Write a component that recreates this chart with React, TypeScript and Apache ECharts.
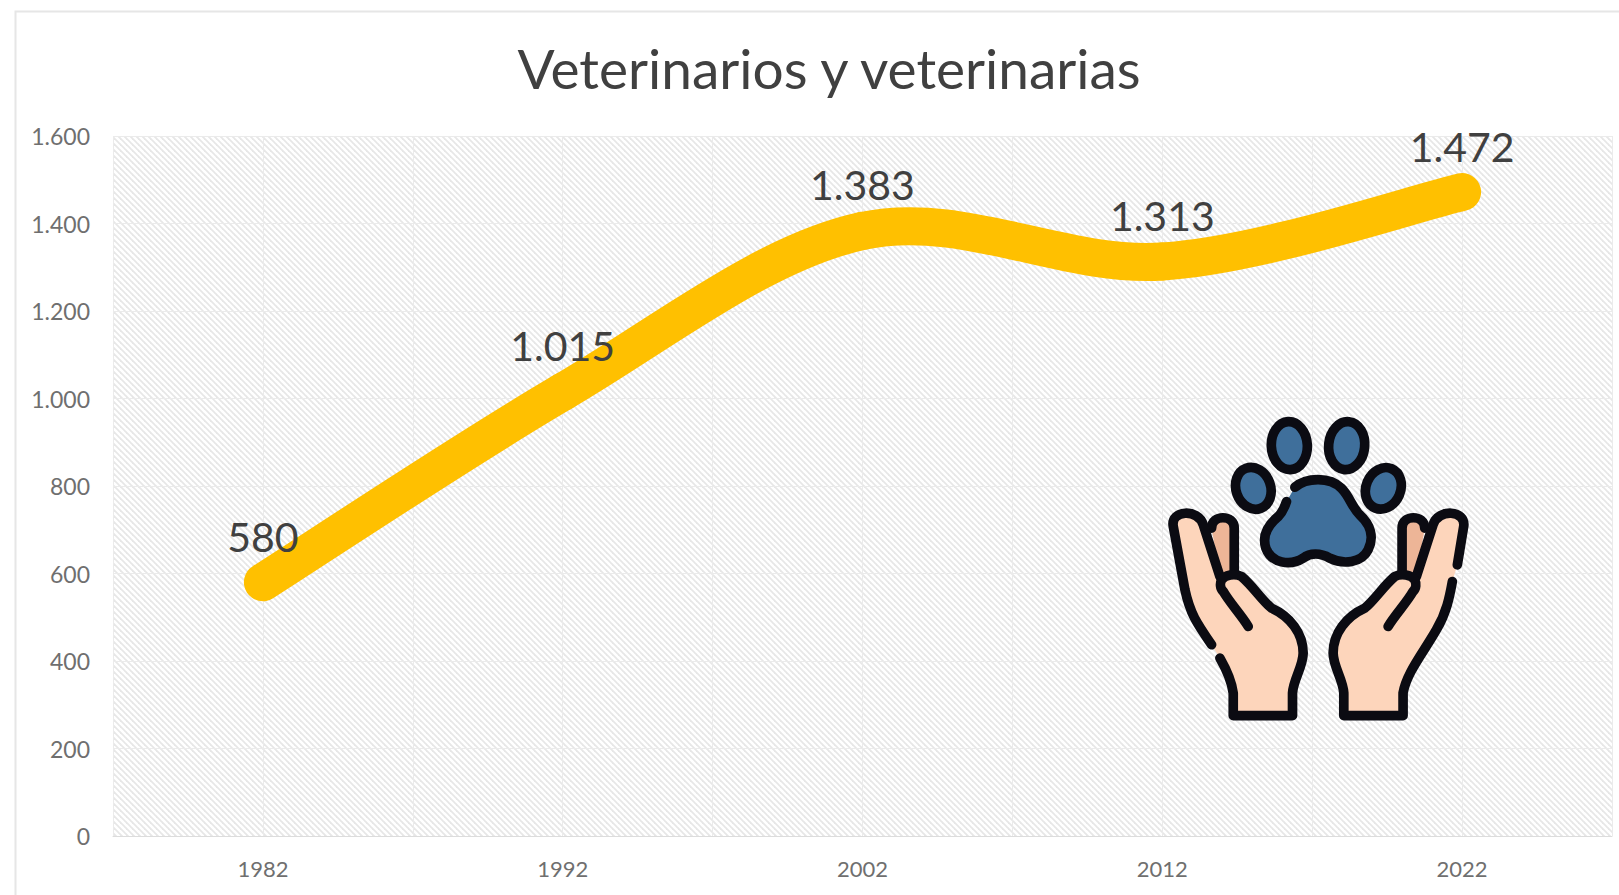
import React, { useEffect, useRef } from "react";
import * as echarts from "echarts";

const years = ["1982", "1992", "2002", "2012", "2022"];
const veterinarios = [580, 1015, 1383, 1313, 1472];
const halfBands = ["", "", "", "", "", "", "", "", "", ""];
const titleText = "Veterinarios y veterinarias";

const FONT = "Lato";
const INK = "#0b0b12";
const BLUE = "#3f6f9b";
const SKIN = "#fdd5bb";
const SKIN_DARK = "#edb597";

const padFill = "M465 262 C500 232 570 230 605 265 C630 290 635 320 660 345 C690 372 705 410 685 450 C665 490 610 495 570 475 C540 458 510 460 490 475 C450 500 395 490 378 445 C365 405 385 375 415 350 C430 335 435 320 440 305 Z";
const padLine = "M465 262 C500 232 570 230 605 265 C630 290 635 320 660 345 C690 372 705 410 685 450 C665 490 610 495 570 475 C540 458 510 460 490 475 C450 500 395 490 378 445 C365 405 385 375 415 350 C430 335 435 320 440 305";
const lhFill = "M100 380 C90 330 175 325 190 375 L240 530 C255 522 285 520 305 530 C340 560 365 600 395 625 C450 650 490 700 490 760 C490 800 460 840 458 880 L458 948 L280 948 L280 880 C275 840 260 810 240 775 L215 735 C170 670 150 640 135 570 Z";
const lhOuter = "M215 735 C170 670 150 640 135 570 L100 380 C90 330 175 325 190 375 L240 530";
const lhThumb = "M240 775 C260 810 275 840 280 880 L280 948 L458 948 L458 880 C460 840 490 800 490 760 C490 700 450 650 395 625 C365 600 340 560 305 530 C285 520 255 525 245 540 C240 550 240 565 250 575 C270 610 300 640 325 680";
const lfFill = "M215 385 C215 343 283 343 283 385 L283 515 L240 530 Z";
const lfLine = "M215 385 C215 343 283 343 283 385 L283 515";
const rhFill = "M972 380 C980 330 895 325 880 375 L830 530 C815 522 785 520 765 530 C730 560 705 600 675 625 C620 650 580 700 580 760 C580 800 610 840 612 880 L612 948 L790 948 L790 880 C800 820 850 760 890 690 C920 640 930 590 938 545 L953 495 Z";
const rhOuter = "M953 495 L972 380 C980 330 895 325 880 375 L830 530";
const rhThumb = "M938 545 C930 590 920 640 890 690 C850 760 800 820 790 880 L790 948 L612 948 L612 880 C610 840 580 800 580 760 C580 700 620 650 675 625 C705 600 730 560 765 530 C785 520 815 525 825 540 C830 550 830 565 820 575 C800 610 770 640 745 680";
const rfFill = "M855 385 C855 343 787 343 787 385 L787 515 L830 530 Z";
const rfLine = "M855 385 C855 343 787 343 787 385 L787 515";

const shapes: Record<string, string> = {
  padFill, padLine, lhFill, lhOuter, lhThumb, lfFill, lfLine, rhFill, rhOuter, rhThumb, rfFill, rfLine,
};
Object.keys(shapes).forEach((k) => {
  echarts.graphic.registerShape("icon_" + k, echarts.graphic.extendPath(shapes[k], {}) as any);
});

function hatch() {
  const c = document.createElement("canvas");
  c.width = 6;
  c.height = 6;
  const g = c.getContext("2d")!;
  g.fillStyle = "#ffffff";
  g.fillRect(0, 0, 6, 6);
  g.strokeStyle = "#e7e7e7";
  g.lineWidth = 1.8;
  [[-6, 0], [0, 0], [6, 0]].forEach(([dx]) => {
    g.beginPath();
    g.moveTo(dx - 1, -1);
    g.lineTo(dx + 7, 7);
    g.stroke();
  });
  return c;
}

const ICON_Z = 10;
const ICON_STROKE = 29;
const fillOnly = (k: string, fill: string) => ({
  type: "icon_" + k,
  z: ICON_Z,
  style: { fill, stroke: "none" },
});
const lineOnly = (k: string) => ({
  type: "icon_" + k,
  z: ICON_Z,
  style: { fill: "none", stroke: INK, lineWidth: ICON_STROKE, lineCap: "round", lineJoin: "round" },
});
const toe = (cx: number, cy: number, rx: number, ry: number, rot: number) => ({
  type: "ellipse",
  z: ICON_Z,
  x: cx,
  y: cy,
  rotation: rot,
  shape: { cx: 0, cy: 0, rx, ry },
  style: { fill: BLUE, stroke: INK, lineWidth: ICON_STROKE },
});
const withDots = (v: number) => (v >= 1000 ? String(v).replace(/(\d)(\d{3})$/, "$1.$2") : String(v));

// Spreadsheet-style smooth line: a Catmull-Rom spline through the data points,
// which, unlike the line series' smoothing, is allowed to overshoot them.
function renderSegment(params: any, api: any) {
  const i = params.dataIndex;
  const last = veterinarios.length - 1;
  const at = (k: number) => {
    const j = Math.max(0, Math.min(last, k));
    return api.coord([j, veterinarios[j]]);
  };
  const [x0, y0] = at(i - 1);
  const [x1, y1] = at(i);
  const [x2, y2] = at(i + 1);
  const [x3, y3] = at(i + 2);
  const children: any[] = [
    {
      type: "text",
      z2: 100,
      style: {
        x: x1,
        y: y1 - 46,
        text: withDots(veterinarios[i]),
        align: "center",
        verticalAlign: "middle",
        fontFamily: FONT,
        fontSize: 41,
        fill: "#404040",
      },
    },
  ];
  if (i < last) {
    children.unshift({
      type: "bezierCurve",
      z2: 1,
      shape: {
        x1,
        y1,
        x2,
        y2,
        cpx1: x1 + (x2 - x0) / 6,
        cpy1: y1 + (y2 - y0) / 6,
        cpx2: x2 - (x3 - x1) / 6,
        cpy2: y2 - (y3 - y1) / 6,
      },
      style: { fill: "none", stroke: "#ffc000", lineWidth: 38, lineCap: "round" },
    });
  }
  return { type: "group", children };
}

export default function App() {
  const ref = useRef<HTMLDivElement>(null);
  useEffect(() => {
    const chart = echarts.init(ref.current!, undefined, { renderer: "svg" });
    chart.setOption({
      animation: false,
      backgroundColor: "#ffffff",
      title: {
        text: titleText,
        left: 824,
        top: 35,
        textAlign: "center",
        textStyle: { fontFamily: FONT, fontSize: 55, fontWeight: 400, color: "#404040" },
      },
      grid: {
        left: 113,
        right: 7,
        top: 136,
        bottom: 59,
        show: true,
        borderWidth: 0,
        backgroundColor: { image: hatch(), repeat: "repeat" },
      },
      xAxis: [
        {
          type: "category",
          data: years,
          boundaryGap: true,
          axisTick: { show: false },
          axisLine: { show: true, lineStyle: { color: "#dcdcdc", width: 1 } },
          axisLabel: { margin: 21, fontFamily: FONT, fontSize: 22, color: "#6f6f6f" },
          splitLine: { show: false },
        },
        {
          type: "category",
          data: halfBands,
          boundaryGap: true,
          position: "bottom",
          axisTick: { show: false },
          axisLine: { show: false },
          axisLabel: { show: false },
          splitLine: { show: true, interval: 0, lineStyle: { color: "#ebebeb", width: 1 } },
        },
      ],
      yAxis: {
        type: "value",
        min: 0,
        max: 1600,
        interval: 200,
        axisLine: { show: false },
        axisTick: { show: false },
        axisLabel: {
          margin: 23,
          fontFamily: FONT,
          fontSize: 23,
          color: "#6f6f6f",
          formatter: (v: number) => withDots(v),
        },
        splitLine: { show: true, lineStyle: { color: "#ebebeb", width: 1 } },
      },
      series: [
        {
          type: "custom",
          name: titleText,
          xAxisIndex: 0,
          yAxisIndex: 0,
          data: veterinarios.map((v, i) => [years[i], v]),
          encode: { x: 0, y: 1 },
          renderItem: renderSegment,
          clip: false,
        },
      ],
      graphic: [
        {
          type: "rect",
          silent: true,
          shape: { x: 15.5, y: 11.5, width: 1800, height: 1000 },
          style: { fill: "none", stroke: "#e6e6e6", lineWidth: 2 },
          z: 5,
        },
        {
          type: "group",
          x: 1140,
          y: 400,
          scaleX: 1 / 3,
          scaleY: 1 / 3,
          z: ICON_Z,
          children: [
            toe(448, 137, 54, 72, 0.05),
            toe(620, 137, 54, 72, -0.1),
            toe(340, 265, 52, 64, 0.35),
            toe(730, 265, 52, 64, -0.4),
            fillOnly("padFill", BLUE),
            lineOnly("padLine"),
            fillOnly("lfFill", SKIN_DARK),
            lineOnly("lfLine"),
            fillOnly("rfFill", SKIN_DARK),
            lineOnly("rfLine"),
            fillOnly("lhFill", SKIN),
            lineOnly("lhOuter"),
            lineOnly("lhThumb"),
            fillOnly("rhFill", SKIN),
            lineOnly("rhOuter"),
            lineOnly("rhThumb"),
          ],
        },
      ],
    });
    return () => chart.dispose();
  }, []);
  return <div ref={ref} style={{ position: "absolute", left: 0, top: 0, width: 1619, height: 895 }} />;
}
